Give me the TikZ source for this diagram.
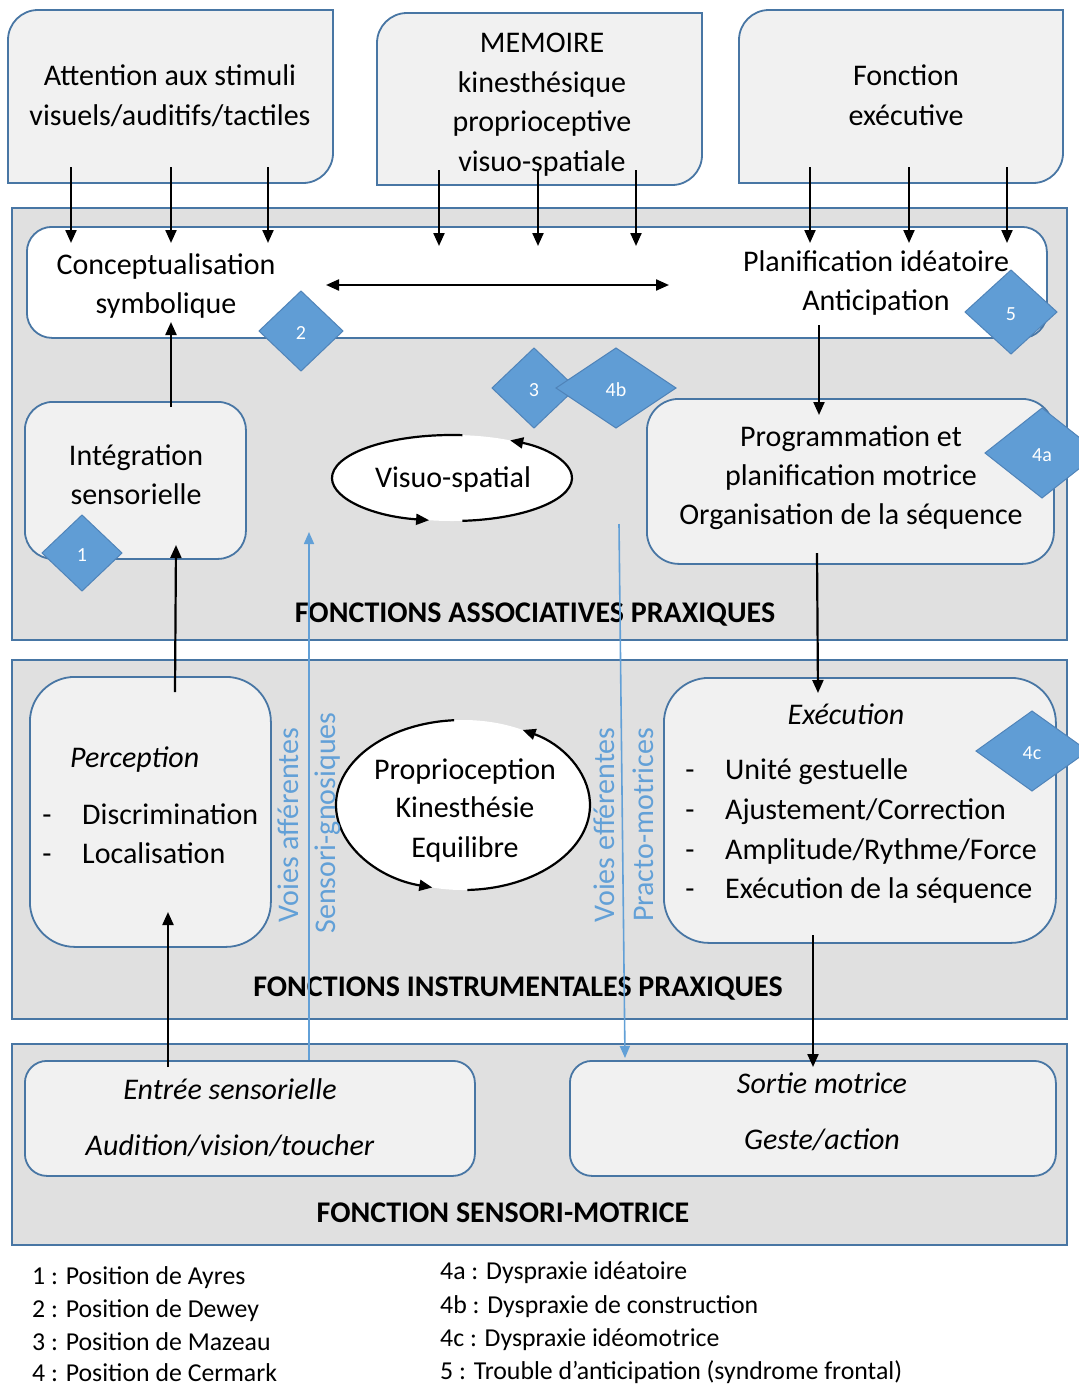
\documentclass[tikz,border=0pt]{standalone}
\usepackage{fontspec}
\setmainfont{Carlito}
\usetikzlibrary{arrows.meta,calc}
\definecolor{bord}{RGB}{72,118,164}
\definecolor{lblue}{RGB}{98,160,215}
\definecolor{panelc}{RGB}{224,224,224}
\definecolor{boxc}{RGB}{241,241,241}
\definecolor{diac}{RGB}{96,157,213}
\definecolor{diab}{RGB}{80,132,185}
\newcommand\mainsz{\fontsize{30}{40}\selectfont}
\newcommand\legsz{\fontsize{25.8}{30}\selectfont}
\newcommand\diagbox[5]{%
  \draw[boxst] (#2,#5) -- (#2,#3+30) arc[start angle=180,end angle=270,radius=30]
    -- (#4,#3) -- (#4,#5-30) arc[start angle=0,end angle=90,radius=30] -- cycle;
  \coordinate (#1) at ({(#2+#4)/2},{(#3+#5)/2});}
\newcommand\mkdia[6]{%
  \draw[diast] (#2-#4,#3) -- (#2,#3-#5) -- (#2+#4,#3) -- (#2,#3+#5) -- cycle;
  \node[diatxt] (#1) at (#2,#3+2) {#6};}
\begin{document}
\begin{tikzpicture}[x=1pt,y=-1pt,
  boxst/.style={draw=bord,fill=boxc,line width=1.8pt},
  panelst/.style={draw=bord,fill=panelc,line width=1.8pt},
  rbox/.style={draw=bord,fill=boxc,line width=1.8pt,inner sep=0,anchor=north west},
  t/.style={font=\mainsz,inner sep=0,text height=21pt,text depth=6pt},
  ti/.style={t,font=\mainsz\itshape},
  tb/.style={t,font=\mainsz\bfseries},
  tv/.style={t,text=lblue,rotate=90},
  leg/.style={font=\legsz,inner sep=0,text height=18pt,text depth=5pt,anchor=west},
  diast/.style={draw=diab,fill=diac,line width=1pt},
  diatxt/.style={font=\fontsize{20}{22}\selectfont,text=white,inner sep=0},
  arr/.style={line width=2.2pt,-{Triangle[length=13pt,width=11pt]}},
  barr/.style={line width=1.6pt,draw=lblue,-{Triangle[length=12pt,width=10pt]},lblue},
  circ/.style={line width=2.2pt,-{Triangle[length=13pt,width=11pt]}}]
\useasboundingbox (0,0) rectangle (1079,1387);
\clip (0,0) rectangle (1079,1387);
\fill[white] (0,0) rectangle (1079,1387);

% ---- top boxes
\diagbox{att}{8}{10}{333}{183}
\diagbox{mem}{377}{13}{702}{185}
\diagbox{fon}{739}{10}{1063}{183}
\node[t] (att1) at (170,78) {Attention aux stimuli};
\node[t] (att2) at (170,118) {visuels/auditifs/tactiles};
\node[t] (mem1) at (542,45) {MEMOIRE};
\node[t] (mem2) at (542,85) {kinesthésique};
\node[t] (mem3) at (542,124) {proprioceptive};
\node[t] (mem4) at (542,164) {visuo-spatiale};
\node[t] (fon1) at (906,78) {Fonction};
\node[t] (fon2) at (906,118) {exécutive};

% ---- panels
\draw[panelst] (12,208) rectangle (1067,640);
\draw[panelst] (12,660) rectangle (1067,1019);
\draw[panelst] (12,1044) rectangle (1067,1245);
\node[tb] (tit1) at (535,615) {FONCTIONS ASSOCIATIVES PRAXIQUES};
\node[tb] (tit2) at (518,989) {FONCTIONS INSTRUMENTALES PRAXIQUES};
\node[tb] (tit3) at (503,1215) {FONCTION SENSORI-MOTRICE};

% ---- white conceptual box
\node[rbox,fill=white,rounded corners=25pt,minimum width=1020pt,minimum height=111pt] (concbox) at (26,226) {};
\node[t] (conc1) at (166,267) {Conceptualisation};
\node[t] (conc2) at (166,306) {symbolique};
\node[t] (plan1) at (876,264) {Planification idéatoire};
\node[t] (plan2) at (876,303) {Anticipation};

% ---- inner boxes
\node[rbox,rounded corners=28pt,minimum width=221pt,minimum height=157pt] (integ) at (24,401) {};
\node[t] (integ1) at (136,458) {Intégration};
\node[t] (integ2) at (136,497) {sensorielle};
\node[rbox,rounded corners=32pt,minimum width=407pt,minimum height=165pt] (prog) at (646,398) {};
\node[t] (prog1) at (851,439) {Programmation et};
\node[t] (prog2) at (851,478) {planification motrice};
\node[t] (prog3) at (851,517) {Organisation de la séquence};

\node[rbox,rounded corners=45pt,minimum width=241pt,minimum height=270pt] (perc) at (29,676) {};
\node[ti,anchor=west] (perc0) at (70,760) {Perception};
\node[t] (percd1) at (47,817) {-};
\node[t,anchor=west] (perc1) at (82,817) {Discrimination};
\node[t] (percd2) at (47,856) {-};
\node[t,anchor=west] (perc2) at (82,856) {Localisation};

\node[rbox,rounded corners=45pt,minimum width=392pt,minimum height=265pt] (exec) at (663,677) {};
\node[ti] (exec0) at (846,717) {Exécution};
\node[t] (execd1) at (690,772) {-};
\node[t,anchor=west] (exec1) at (725,772) {Unité gestuelle};
\node[t] (execd2) at (690,812) {-};
\node[t,anchor=west] (exec2) at (725,812) {Ajustement/Correction};
\node[t] (execd3) at (690,852) {-};
\node[t,anchor=west] (exec3) at (725,852) {Amplitude/Rythme/Force};
\node[t] (execd4) at (690,891) {-};
\node[t,anchor=west] (exec4) at (725,891) {Exécution de la séquence};

\node[rbox,rounded corners=22pt,minimum width=450pt,minimum height=115pt] (entree) at (24,1060) {};
\node[ti] (entree1) at (230,1092) {Entrée sensorielle};
\node[ti] (entree2) at (230,1148) {Audition/vision/toucher};
\node[rbox,rounded corners=22pt,minimum width=486pt,minimum height=115pt] (sortie) at (569,1060) {};
\node[ti] (sortie1) at (822,1086) {Sortie motrice};
\node[ti] (sortie2) at (822,1142) {Geste/action};

% ---- ellipses
\fill[white] (452,478) ellipse [x radius=120, y radius=43];
\node[t] (visuo) at (453,480) {Visuo-spatial};
\draw[circ] ([shift={(275:120 and 43)}]452,478) arc[start angle=275,end angle=101,x radius=120,y radius=43];
\draw[circ] ([shift={(85:120 and 43)}]452,478) arc[start angle=85,end angle=-61,x radius=120,y radius=43];

\fill[white] (463,805) ellipse [x radius=127, y radius=85];
\node[t] (prop1) at (465,772) {Proprioception};
\node[t] (prop2) at (465,810) {Kinesthésie};
\node[t] (prop3) at (465,850) {Equilibre};
\draw[circ] ([shift={(266:127 and 85)}]463,805) arc[start angle=266,end angle=104,x radius=127,y radius=85];
\draw[circ] ([shift={(88:127 and 85)}]463,805) arc[start angle=88,end angle=-62,x radius=127,y radius=85];

% ---- vertical blue texts
\node[tv] (va) at (291,825) {Voies afférentes};
\node[tv] (sg) at (328,823) {Sensori-gnosiques};
\node[tv] (ve) at (607,825) {Voies efférentes};
\node[tv] (pm) at (646,825) {Practo-motrices};

% ---- blue pathways
\coordinate (affbot) at (309,1060);
\coordinate (afftop) at (309,532);
\coordinate (efftop) at (619,524);
\coordinate (effbot) at (625,1058);
\draw[barr] (affbot) -- (afftop);
\draw[barr] (efftop) -- (effbot);

% ---- black arrows
\foreach \x/\n in {71/a,171/b,268/c}{
  \coordinate (att\n s) at (\x,167); \coordinate (att\n e) at (\x,243);
  \draw[arr] (att\n s) -- (att\n e);}
\foreach \x/\n in {439/a,538/b,636/c}{
  \coordinate (mem\n s) at (\x,170); \coordinate (mem\n e) at (\x,246);
  \draw[arr] (mem\n s) -- (mem\n e);}
\foreach \x/\n in {810/a,909/b,1007/c}{
  \coordinate (fon\n s) at (\x,167); \coordinate (fon\n e) at (\x,243);
  \draw[arr] (fon\n s) -- (fon\n e);}
\coordinate (dl) at (326,285);
\coordinate (dr) at (669,285);
\draw[arr,{Triangle[length=13pt,width=11pt]}-{Triangle[length=13pt,width=11pt]}] (dl) -- (dr);
\coordinate (c1) at (819,325); \coordinate (c2) at (819,415);
\draw[arr] (c1) -- (c2);
\coordinate (c3) at (171,407); \coordinate (c4) at (171,322);
\draw[arr] (c3) -- (c4);
\coordinate (c5) at (175,692); \coordinate (c6) at (176,545);
\draw[arr] (c5) -- (c6);
\coordinate (c7) at (168,1067); \coordinate (c8) at (168,912);
\draw[arr] (c7) -- (c8);
\coordinate (c9) at (817,553); \coordinate (c10) at (818,693);
\draw[arr] (c9) -- (c10);
\coordinate (c11) at (813,935); \coordinate (c12) at (813,1067);
\draw[arr] (c11) -- (c12);

% ---- diamonds
\mkdia{d1}{82}{553}{40}{38}{1}
\mkdia{d2}{301}{331}{42}{40}{2}
\mkdia{d3}{534}{388}{42}{40}{3}
\mkdia{d4b}{616}{388}{60}{40}{4b}
\mkdia{d5}{1011}{312}{46}{42}{5}
\mkdia{d4a}{1042}{453}{57}{45}{4a}
\mkdia{d4c}{1032}{751}{56}{40}{4c}

% ---- legend
\node[leg] (l1) at (32,1278) {1 : Position de Ayres};
\node[leg] (l2) at (32,1311) {2 : Position de Dewey};
\node[leg] (l3) at (32,1344) {3 : Position de Mazeau};
\node[leg] (l4) at (32,1375) {4 : Position de Cermark};
\node[leg] (l5) at (440,1273) {4a : Dyspraxie idéatoire};
\node[leg] (l6) at (440,1307) {4b : Dyspraxie de construction};
\node[leg] (l7) at (440,1340) {4c : Dyspraxie idéomotrice};
\node[leg] (l8) at (440,1373) {5 : Trouble d’anticipation (syndrome frontal)};
\end{tikzpicture}
\end{document}
